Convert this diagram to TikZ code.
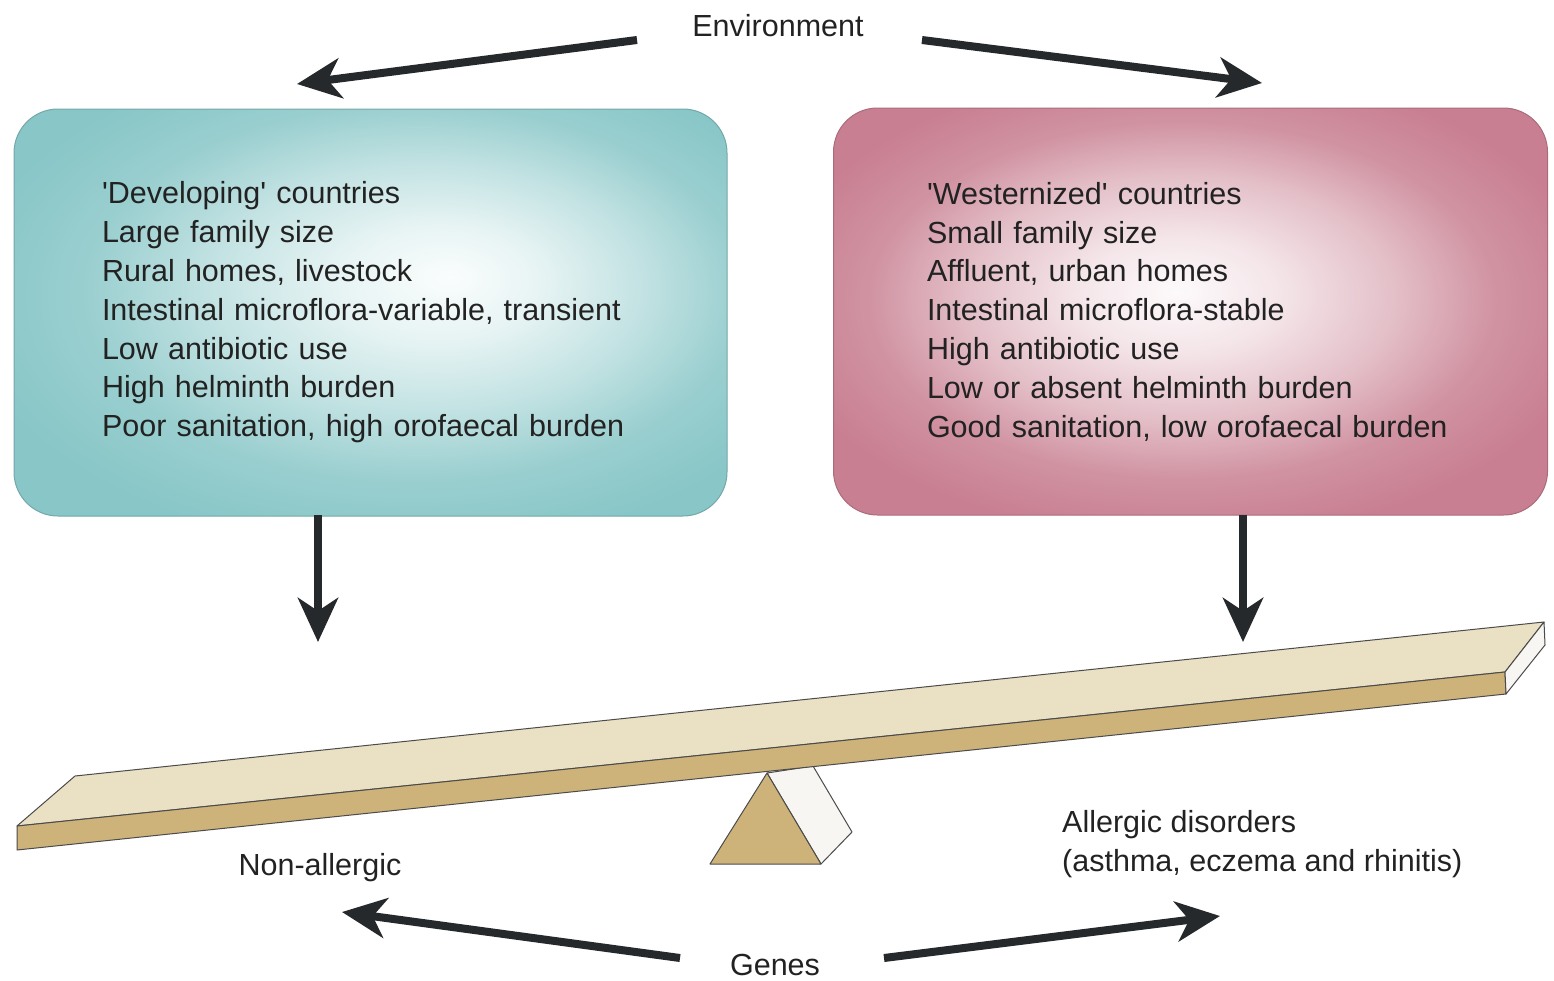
\documentclass[tikz,border=0pt]{standalone}
\usepackage{fontspec}
\newfontfamily\lsans{Liberation Sans}
\usetikzlibrary{arrows.meta}
\definecolor{tealc}{RGB}{136,198,199}
\definecolor{pinkc}{RGB}{200,127,145}
\definecolor{arrowc}{RGB}{37,41,43}
\definecolor{textc}{RGB}{34,34,34}
\definecolor{planktop}{RGB}{234,224,196}
\definecolor{tanc}{RGB}{205,178,122}
\definecolor{sidec}{RGB}{248,246,242}
\definecolor{edgec}{RGB}{75,75,75}
\pgfdeclareradialshading{leftglow}{\pgfpoint{5.6bp}{4.4bp}}{color(0bp)=(tealc!4); color(7bp)=(tealc!20); color(15bp)=(tealc!50); color(23bp)=(tealc!85); color(31bp)=(tealc); color(50bp)=(tealc)}
\pgfdeclareradialshading{rightglow}{\pgfpoint{-1bp}{2.5bp}}{color(0bp)=(pinkc!4); color(7bp)=(pinkc!20); color(15bp)=(pinkc!50); color(22bp)=(pinkc!85); color(29bp)=(pinkc); color(50bp)=(pinkc)}
\tikzset{
  lbl/.style={text=textc, font=\lsans\fontsize{30.5}{38.8}\selectfont, inner sep=0pt},
  infobox/.style={lbl, rounded corners=44pt, minimum height=407pt, align=left, inner ysep=0pt},
  bigarrow/.style={draw=arrowc, line width=8pt, -{Stealth[length=44pt,width=40pt,inset=13pt]}},
  plank/.style={draw=edgec, line width=1pt, line join=round},
}
\begin{document}
\begin{tikzpicture}[x=1pt,y=-1pt]
\useasboundingbox (0,0) rectangle (1554,980);

% boxes
\node[infobox, shading=leftglow, draw=tealc!85!black, line width=1pt,
      minimum width=713pt, text width=537pt, inner xsep=88pt] (devbox) at (370.5,312.5)
 {'Developing' countries\\Large family size\\Rural homes, livestock\\Intestinal microflora-variable, transient\\Low antibiotic use\\High helminth burden\\Poor sanitation, high orofaecal burden};
\node[infobox, shading=rightglow, draw=pinkc!85!black, line width=1pt,
      minimum width=714pt, text width=527pt, inner xsep=93.5pt] (westbox) at (1190.5,311.5)
 {'Westernized' countries\\Small family size\\Affluent, urban homes\\Intestinal microflora-stable\\High antibiotic use\\Low or absent helminth burden\\Good sanitation, low orofaecal burden};

% labels
\node[lbl, anchor=base] (env) at (778,36) {Environment};
\node[lbl, anchor=base] (genes) at (775,975) {Genes};
\node[lbl, anchor=base] (nonall) at (320,875) {Non-allergic};
\node[lbl, anchor=north west, align=left] (allerg) at (1062,810) {Allergic disorders\\(asthma, eczema and rhinitis)};

% arrow end points
\coordinate (envLtail) at (637,40);
\coordinate (envLtip) at (297,84);
\coordinate (envRtail) at (922,40);
\coordinate (envRtip) at (1262,83);
\coordinate (devout) at (318,515);
\coordinate (devtip) at (318,642);
\coordinate (westout) at (1243,515);
\coordinate (westtip) at (1243,642);
\coordinate (genLtail) at (680,958);
\coordinate (genLtip) at (342,912);
\coordinate (genRtail) at (884,958);
\coordinate (genRtip) at (1220,916);

\draw[bigarrow] (envLtail) -- (envLtip);
\draw[bigarrow] (envRtail) -- (envRtip);
\draw[bigarrow] (devout) -- (devtip);
\draw[bigarrow] (westout) -- (westtip);
\draw[bigarrow] (genLtail) -- (genLtip);
\draw[bigarrow] (genRtail) -- (genRtip);

% fulcrum
\draw[plank, fill=sidec] (767,773) -- (813,766) -- (852,832) -- (821,864) -- cycle;
\draw[plank, fill=tanc] (767,773) -- (710,864) -- (821,864) -- cycle;

% plank
\draw[plank, fill=planktop] (17,826) -- (75,776) -- (1544,622) -- (1505,672) -- cycle;
\draw[plank, fill=tanc] (17,826) -- (1505,672) -- (1506,694) -- (17,850) -- cycle;
\draw[plank, fill=sidec] (1505,672) -- (1544,622) -- (1545,645) -- (1506,694) -- cycle;
\end{tikzpicture}
\end{document}
